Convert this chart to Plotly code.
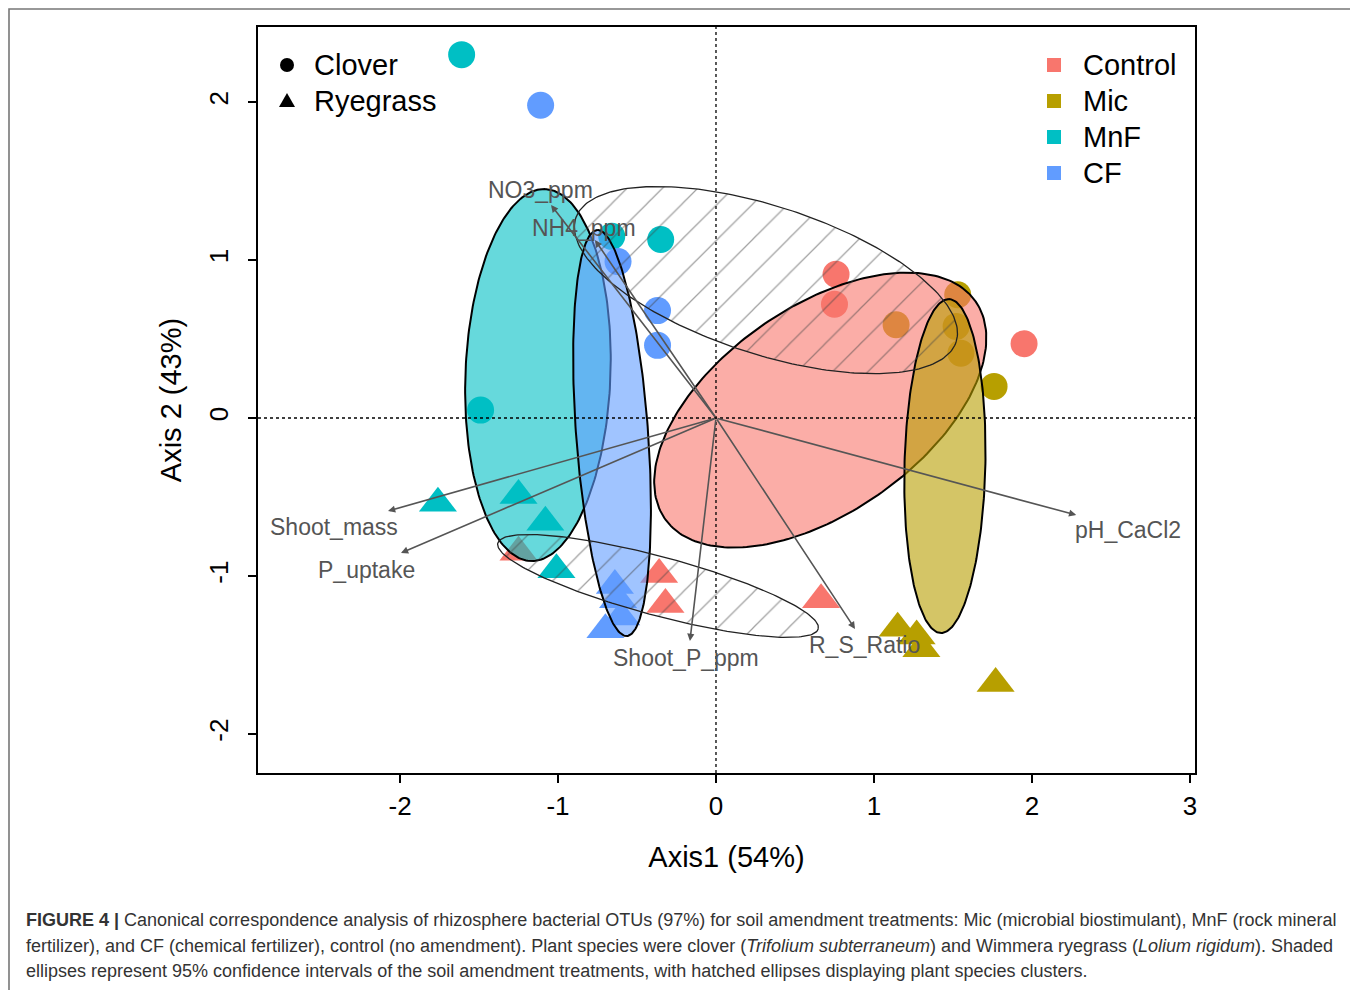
import numpy as np
import plotly.graph_objects as go

# ---------------- data ----------------
treatments = ["Control", "Mic", "MnF", "CF"]
treat_colors = ["#F8766D", "#B79F00", "#00BFC4", "#619CFF"]

# Clover samples (circles)
clover_control_x = [0.76, 0.75, 1.95]
clover_control_y = [0.91, 0.72, 0.47]
clover_mic_x = [1.14, 1.53, 1.52, 1.55, 1.76]
clover_mic_y = [0.59, 0.78, 0.58, 0.41, 0.20]
clover_mnf_x = [-1.61, -0.35, -1.49, -0.66]
clover_mnf_y = [2.30, 1.13, 0.05, 1.15]
clover_cf_x = [-1.11, -0.62, -0.37, -0.37]
clover_cf_y = [1.98, 0.99, 0.68, 0.46]

# Ryegrass samples (triangles)
rye_control_x = [-1.25, -0.36, -0.32, 0.665]
rye_control_y = [-0.85, -0.99, -1.18, -1.15]
rye_mic_x = [1.15, 1.27, 1.30, 1.77]
rye_mic_y = [-1.33, -1.38, -1.46, -1.68]
rye_mnf_x = [-1.76, -1.25, -1.08, -1.01]
rye_mnf_y = [-0.54, -0.49, -0.66, -0.96]
rye_cf_x = [-0.64, -0.62, -0.60, -0.70]
rye_cf_y = [-1.06, -1.15, -1.26, -1.34]

# 95% confidence ellipses of treatments: centre x, centre y, semi-axes, angle (deg)
treat_ell_cx = [0.66, 1.449, -1.127, -0.658]
treat_ell_cy = [0.05, -0.304, 0.272, -0.095]
treat_ell_a = [1.20, 1.057, 1.178, 1.288]
treat_ell_b = [0.65, 0.256, 0.459, 0.228]
treat_ell_ang = [35.0, 88.6, 87.8, 94.2]

# Plant species ellipses (hatched): Clover, Ryegrass
species = ["Clover", "Ryegrass"]
spec_ell_cx = [0.316, -0.367]
spec_ell_cy = [0.873, -1.063]
spec_ell_a = [1.266, 1.05]
spec_ell_b = [0.468, 0.186]
spec_ell_ang = [-18.0, -15.0]

# Environmental vectors
env_names = ["NO3_ppm", "NH4_ppm", "Shoot_mass", "P_uptake", "Shoot_P_ppm", "R_S_Ratio", "pH_CaCl2"]
env_x = [-1.044, -0.766, -2.076, -1.994, -0.165, 0.880, 2.280]
env_y = [1.348, 1.127, -0.589, -0.854, -1.411, -1.335, -0.614]
env_lab_x = [-1.114, -0.835, -2.418, -2.215, -0.190, 0.943, 2.608]
env_lab_y = [1.445, 1.205, -0.690, -0.960, -1.517, -1.435, -0.708]

x_ticks = [-2, -1, 0, 1, 2, 3]
y_ticks = [-2, -1, 0, 1, 2]

caption_lines = [
    "<b>FIGURE 4 |</b> Canonical correspondence analysis of rhizosphere bacterial OTUs (97%) for soil amendment treatments: Mic (microbial biostimulant), MnF (rock mineral",
    "fertilizer), and CF (chemical fertilizer), control (no amendment). Plant species were clover (<i>Trifolium subterraneum</i>) and Wimmera ryegrass (<i>Lolium rigidum</i>). Shaded",
    "ellipses represent 95% confidence intervals of the soil amendment treatments, with hatched ellipses displaying plant species clusters.",
]

# ---------------- helpers ----------------
FONT = "Liberation Sans, Arial, sans-serif"
OFF = 8  # page body margin
W, H = 1350, 982
L, T = 250, 19
PW, PH = 937, 746
R, B = W - L - PW, H - T - PH


def px_to_paper_x(px):  # page pixel -> paper
    return (px - OFF - L) / PW


def px_to_paper_y(py):
    return (T + PH - (py - OFF)) / PH


def ellipse(cx, cy, a, b, ang, n=240):
    t = np.linspace(0, 2 * np.pi, n)
    th = np.deg2rad(ang)
    ex = a * np.cos(t)
    ey = b * np.sin(t)
    return cx + ex * np.cos(th) - ey * np.sin(th), cy + ex * np.sin(th) + ey * np.cos(th)


def hex_rgba(h, a):
    h = h.lstrip("#")
    return "rgba(%d,%d,%d,%.2f)" % (int(h[0:2], 16), int(h[2:4], 16), int(h[4:6], 16), a)


fig = go.Figure()

clover_x = [clover_control_x, clover_mic_x, clover_mnf_x, clover_cf_x]
clover_y = [clover_control_y, clover_mic_y, clover_mnf_y, clover_cf_y]
rye_x = [rye_control_x, rye_mic_x, rye_mnf_x, rye_cf_x]
rye_y = [rye_control_y, rye_mic_y, rye_mnf_y, rye_cf_y]

for i, tr in enumerate(treatments):
    fig.add_trace(go.Scatter(x=clover_x[i], y=clover_y[i], mode="markers", name=tr + " clover",
                             marker=dict(symbol="circle", size=27, color=treat_colors[i], line=dict(width=0)),
                             showlegend=False, hoverinfo="skip"))
    fig.add_trace(go.Scatter(x=rye_x[i], y=rye_y[i], mode="markers", name=tr + " ryegrass",
                             marker=dict(symbol="triangle-up", size=33, color=treat_colors[i], line=dict(width=0)),
                             showlegend=False, hoverinfo="skip"))

for i, tr in enumerate(treatments):
    ex, ey = ellipse(treat_ell_cx[i], treat_ell_cy[i], treat_ell_a[i], treat_ell_b[i], treat_ell_ang[i])
    fig.add_trace(go.Scatter(x=ex, y=ey, mode="lines", fill="toself",
                             fillcolor=hex_rgba(treat_colors[i], 0.6),
                             line=dict(color="black", width=2), showlegend=False, hoverinfo="skip"))

for i, sp in enumerate(species):
    ex, ey = ellipse(spec_ell_cx[i], spec_ell_cy[i], spec_ell_a[i], spec_ell_b[i], spec_ell_ang[i])
    fig.add_trace(go.Scatter(x=ex, y=ey, mode="lines", fill="toself",
                             fillcolor="rgba(0,0,0,0)",
                             fillpattern=dict(shape="/", fgcolor="#444444", bgcolor="rgba(0,0,0,0)",
                                              size=25, solidity=0.05),
                             line=dict(color="#222222", width=1.3), showlegend=False, hoverinfo="skip"))

annotations = []
for i, nm in enumerate(env_names):
    annotations.append(dict(x=env_x[i], y=env_y[i], ax=0, ay=0, xref="x", yref="y", axref="x", ayref="y",
                            text="", showarrow=True, arrowhead=2, arrowsize=0.9, arrowwidth=1.6,
                            arrowcolor="#555555", standoff=0, startstandoff=0))
    annotations.append(dict(x=env_lab_x[i], y=env_lab_y[i], xref="x", yref="y", text=nm, showarrow=False,
                            font=dict(family=FONT, size=23, color="#555555"),
                            xanchor="center", yanchor="middle"))

# legends (text)
leg1 = ["Clover", "Ryegrass"]
leg1_py = [65, 101]
for i, t in enumerate(leg1):
    annotations.append(dict(x=px_to_paper_x(312), y=px_to_paper_y(leg1_py[i]), xref="paper", yref="paper",
                            text=t, showarrow=False, xanchor="left", yanchor="middle",
                            font=dict(family=FONT, size=29, color="black")))
leg2_py = [65, 101, 137, 173]
for i, t in enumerate(treatments):
    annotations.append(dict(x=px_to_paper_x(1081), y=px_to_paper_y(leg2_py[i]), xref="paper", yref="paper",
                            text=t, showarrow=False, xanchor="left", yanchor="middle",
                            font=dict(family=FONT, size=29, color="black")))

# caption
cap_py = [920, 946, 971]
for i, t in enumerate(caption_lines):
    annotations.append(dict(x=px_to_paper_x(24), y=px_to_paper_y(cap_py[i]), xref="paper", yref="paper",
                            text=t, showarrow=False, xanchor="left", yanchor="middle",
                            font=dict(family=FONT, size=18, color="#333333")))

shapes = []
# dotted zero lines
shapes.append(dict(type="line", xref="x", yref="paper", x0=0, x1=0, y0=0, y1=1,
                   line=dict(color="black", width=1.3, dash="dot")))
shapes.append(dict(type="line", xref="paper", yref="y", x0=0, x1=1, y0=0, y1=0,
                   line=dict(color="black", width=1.3, dash="dot")))
# outer figure border
shapes.append(dict(type="rect", xref="paper", yref="paper",
                   x0=px_to_paper_x(9), x1=px_to_paper_x(1356), y0=px_to_paper_y(1005), y1=px_to_paper_y(9),
                   line=dict(color="#777777", width=1.6), fillcolor="rgba(0,0,0,0)", layer="below"))
# legend keys (pixel-sized shapes anchored in paper coords)
for i in range(2):
    yy = px_to_paper_y(leg1_py[i])
    if i == 0:
        shapes.append(dict(type="circle", xref="paper", yref="paper", xsizemode="pixel", ysizemode="pixel",
                           xanchor=px_to_paper_x(287), yanchor=yy, x0=-7, x1=7, y0=-7, y1=7,
                           fillcolor="black", line=dict(width=0)))
    else:
        shapes.append(dict(type="path", xref="paper", yref="paper", xsizemode="pixel", ysizemode="pixel",
                           xanchor=px_to_paper_x(287), yanchor=yy, path="M -8 -6 L 8 -6 L 0 8 Z",
                           fillcolor="black", line=dict(width=0)))
for i in range(4):
    yy = px_to_paper_y(leg2_py[i])
    shapes.append(dict(type="rect", xref="paper", yref="paper", xsizemode="pixel", ysizemode="pixel",
                       xanchor=px_to_paper_x(1054), yanchor=yy, x0=-7, x1=7, y0=-7, y1=7,
                       fillcolor=treat_colors[i], line=dict(width=0)))

fig.update_layout(
    width=W, height=H, autosize=False,
    margin=dict(l=L, r=R, t=T, b=B),
    paper_bgcolor="white", plot_bgcolor="white",
    showlegend=False,
    annotations=annotations, shapes=shapes,
    font=dict(family=FONT, color="black"),
)
fig.update_xaxes(range=[-2.899, 3.032], tickvals=x_ticks, ticktext=[str(v) for v in x_ticks],
                 showgrid=False, zeroline=False, showline=True, mirror=True, linecolor="black", linewidth=1.5,
                 ticks="outside", ticklen=8, tickwidth=1.5, tickcolor="black",
                 tickfont=dict(family=FONT, size=26, color="black"), ticklabelstandoff=1,
                 title=dict(text="Axis1 (54%)", font=dict(family=FONT, size=29, color="black"), standoff=27))
fig.update_yaxes(range=[-2.247, 2.475], tickvals=y_ticks, ticktext=[str(v) for v in y_ticks],
                 showgrid=False, zeroline=False, showline=True, mirror=True, linecolor="black", linewidth=1.5,
                 ticks="outside", ticklen=8, tickwidth=1.5, tickcolor="black", tickangle=-90,
                 tickfont=dict(family=FONT, size=26, color="black"), ticklabelstandoff=10,
                 title=dict(text="Axis 2 (43%)", font=dict(family=FONT, size=29, color="black"), standoff=14))

fig.write_html("out.html")
